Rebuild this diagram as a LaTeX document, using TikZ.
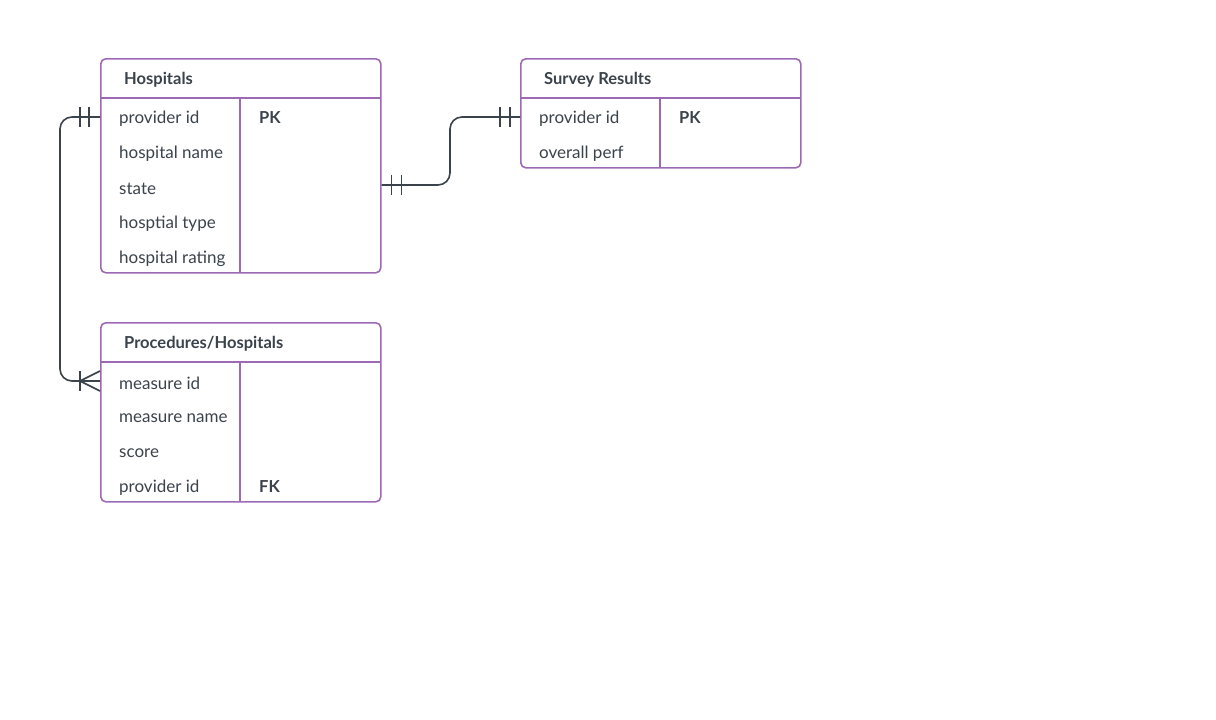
\documentclass[tikz,border=0pt]{standalone}
\usepackage{fontspec}
\setmainfont{Lato}
\definecolor{tblpurple}{HTML}{9C6AB5}
\definecolor{inkdark}{HTML}{3A424B}
\tikzset{
  tbl/.style={draw=tblpurple, line width=1.6pt, rounded corners=5pt, minimum width=280pt, inner sep=0pt},
  sep/.style={draw=tblpurple, line width=1.6pt},
  fld/.style={anchor=west, inner sep=0pt, text=inkdark, font=\fontsize{17}{20}\selectfont},
  ttl/.style={fld, font=\fontsize{16.5}{20}\selectfont\bfseries},
  conn/.style={draw=inkdark, line width=1.6pt, rounded corners=12pt},
  tick/.style={draw=inkdark, line width=1.6pt}
}
\begin{document}
\begin{tikzpicture}[x=1pt,y=-1pt]
\useasboundingbox (0,0) rectangle (1216,720);

% Hospitals
\node[tbl, minimum height=214pt, anchor=north west] (hosp) at (100,58) {};
\draw[sep] (100,98) -- (380,98);
\draw[sep] (240,98) -- (240,272);
\node[ttl] (hosp-t) at (124,80) {Hospitals};
\foreach [count=\i] \f in {provider id,hospital name,state,hosptial type,hospital rating}
   \node[fld] (hosp-\i) at (119,84+35*\i) {\f};
\node[ttl] (hosp-pk) at (259,118) {PK};

% Survey Results
\node[tbl, minimum height=109pt, anchor=north west] (surv) at (520,58) {};
\draw[sep] (520,98) -- (800,98);
\draw[sep] (660,98) -- (660,167);
\node[ttl] (surv-t) at (544,80) {Survey Results};
\foreach [count=\i] \f in {provider id,overall perf}
   \node[fld] (surv-\i) at (539,84+35*\i) {\f};
\node[ttl] (surv-pk) at (679,118) {PK};

% Procedures/Hospitals
\node[tbl, minimum height=179pt, anchor=north west] (proc) at (100,322) {};
\draw[sep] (100,362) -- (380,362);
\draw[sep] (240,362) -- (240,501);
\node[ttl] (proc-t) at (124,344) {Procedures/Hospitals};
\foreach [count=\i] \f in {measure id,measure name,score,provider id}
   \node[fld] (proc-\i) at (119,348+35*\i) {\f};
\node[ttl] (proc-fk) at (259,487) {FK};

% hospitals -- survey results (one to one)
\coordinate (bendA) at (450,150);
\draw[conn] (hosp.east |- 0,185) -| (bendA) |- (surv.west |- 0,117);
\draw[tick] (hosp.east |- 0,185) ++(10,-10) -- ++(0,20) ++(10,0) -- ++(0,-20);
\draw[tick] (surv.west |- 0,117) ++(-10,-10) -- ++(0,20) ++(-10,0) -- ++(0,-20);

% hospitals -- procedures (one to many)
\coordinate (bendB) at (60,250);
\draw[conn] (hosp.west |- 0,117) -| (bendB) |- (proc.west |- 0,381);
\draw[tick] (hosp.west |- 0,117) ++(-11,-10) -- ++(0,20) ++(-9,0) -- ++(0,-20);
\draw[tick] (proc.west |- 0,381) ++(-20,-10) -- ++(0,20);
\draw[tick] (proc.west |- 0,381) ++(0,-10) -- ++(-20,10) -- ++(20,10);
\end{tikzpicture}
\end{document}
